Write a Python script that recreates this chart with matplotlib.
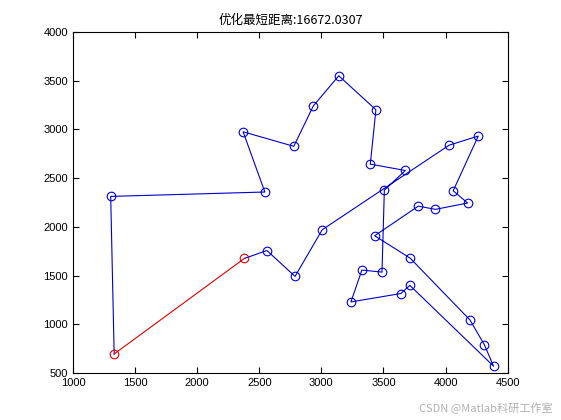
import matplotlib
matplotlib.use('Agg')
import matplotlib.pyplot as plt

plt.rcParams['font.family'] = ['Liberation Sans', 'Noto Sans CJK SC', 'DejaVu Sans']

# route order (x, y) of the optimised tour
route_x = [2381, 2562, 2788, 3007, 4029, 4263, 4061, 4177, 3918, 3780, 3429,
           3715, 4196, 4312, 4386, 3712, 3639, 3238, 3326, 3488, 3507, 3676,
           3394, 3439, 3140, 2935, 2778, 2370, 2545, 1304, 1332]
route_y = [1676, 1756, 1491, 1970, 2838, 2931, 2370, 2244, 2179, 2212, 1908,
           1678, 1044, 790, 570, 1399, 1315, 1229, 1556, 1535, 2376, 2578,
           2643, 3201, 3550, 3240, 2826, 2975, 2357, 2312, 695]
best_dist = 16672.0307

fig = plt.figure(figsize=(5.61, 4.20), dpi=100)
ax = fig.add_axes([0.130, 0.112, 0.775, 0.812])

blue = '#0000cc'
red = '#dd0000'
ax.plot(route_x, route_y, '-', color=blue, lw=0.8)
ax.plot(route_x[1:-1], route_y[1:-1], 'o', color=blue, ms=6.2,
        mfc='none', mew=0.8)
# closing segment back to start
ax.plot([route_x[-1], route_x[0]], [route_y[-1], route_y[0]], 'o-',
        color=red, lw=0.8, ms=6.2, mfc='none', mew=0.8)

ax.set_xlim(1000, 4500)
ax.set_ylim(500, 4000)
ax.set_xticks(range(1000, 4501, 500))
ax.set_yticks(range(500, 4001, 500))
ax.tick_params(direction='in', top=True, right=True, labelsize=8, length=4)
for s in ax.spines.values():
    s.set_linewidth(0.8)

ax.set_title('优化最短距离:%.4f' % best_dist, fontsize=9,
             family=['Noto Sans CJK SC', 'DejaVu Sans'])

fig.text(0.985, 0.015, 'CSDN @Matlab科研工作室', ha='right', va='bottom',
         fontsize=8, color='#b0b0b0', family=['Noto Sans CJK SC', 'DejaVu Sans'])

fig.savefig('out.png', dpi=100)
